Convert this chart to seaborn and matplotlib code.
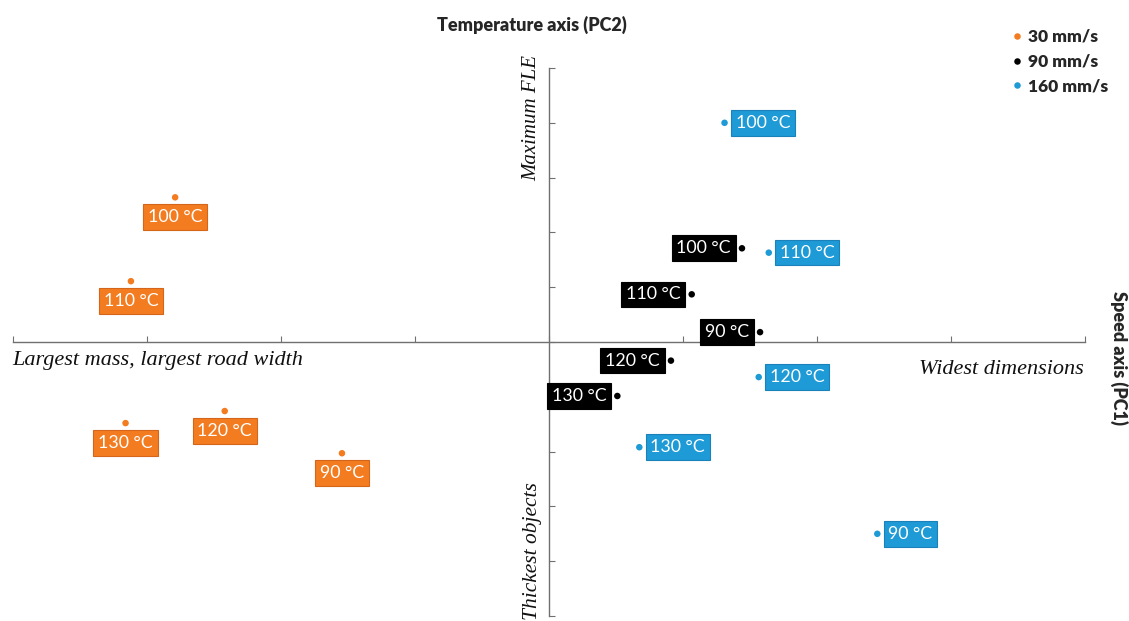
import matplotlib
matplotlib.use("Agg")
import matplotlib.pyplot as plt
import seaborn as sns
import pandas as pd

# ---- data ----
speeds = ["30 mm/s", "90 mm/s", "160 mm/s"]
colors = ["#F47C20", "#000000", "#1E9AD6"]
edge_colors = ["#D4651A", "#000000", "#1A82B8"]

temps_30 = ["100 °C", "110 °C", "130 °C", "120 °C", "90 °C"]
pc1_30 = [-2.79, -3.12, -3.16, -2.42, -1.545]
pc2_30 = [2.64, 1.11, -1.48, -1.26, -2.03]

temps_90 = ["100 °C", "110 °C", "90 °C", "120 °C", "130 °C"]
pc1_90 = [1.44, 1.065, 1.575, 0.91, 0.51]
pc2_90 = [1.71, 0.87, 0.18, -0.34, -0.985]

temps_160 = ["100 °C", "110 °C", "120 °C", "130 °C", "90 °C"]
pc1_160 = [1.31, 1.64, 1.565, 0.674, 2.45]
pc2_160 = [4.0, 1.63, -0.64, -1.92, -3.50]

x_ticks = [-4, -3, -2, -1, 0, 1, 2, 3, 4]
y_ticks = [-5, -4, -3, -2, -1, 0, 1, 2, 3, 4, 5]

df = pd.DataFrame({
    "speed": [speeds[0]] * 5 + [speeds[1]] * 5 + [speeds[2]] * 5,
    "temp": temps_30 + temps_90 + temps_160,
    "pc1": pc1_30 + pc1_90 + pc1_160,
    "pc2": pc2_30 + pc2_90 + pc2_160,
})

# ---- style ----
sns.set_style("white")
plt.rcParams["font.family"] = ["Lato", "DejaVu Sans"]

W, H = 1129, 621
fig = plt.figure(figsize=(W / 100, H / 100), dpi=100)
ax = fig.add_axes([0, 0, 1, 1])

# pixel geometry of the reference: origin (549, 342), 134 px per x unit, 54.8 px per y unit
ox, oy, ux, uy = 549, 342, 134.0, 54.8
ax.set_xlim(-ox / ux, (W - ox) / ux)
ax.set_ylim(-(H - oy) / uy, oy / uy)

palette = dict(zip(speeds, colors))
sns.scatterplot(data=df, x="pc1", y="pc2", hue="speed", hue_order=speeds,
                palette=palette, s=22, linewidth=0, ax=ax, legend=True, zorder=3)

# crossed axes
axis_col = "#707070"
for side in ["top", "right"]:
    ax.spines[side].set_visible(False)
ax.spines["left"].set_position(("data", 0))
ax.spines["bottom"].set_position(("data", 0))
ax.spines["left"].set_bounds(y_ticks[0], y_ticks[-1])
ax.spines["bottom"].set_bounds(x_ticks[0], x_ticks[-1])
for side in ["left", "bottom"]:
    ax.spines[side].set_color(axis_col)
    ax.spines[side].set_linewidth(1.0)
ax.set_xticks(x_ticks)
ax.set_yticks(y_ticks)
ax.set_xticklabels([])
ax.set_yticklabels([])
ax.tick_params(direction="in", length=4, width=0.8, color=axis_col,
               bottom=True, left=True)
ax.set_xlabel("")
ax.set_ylabel("")

# labels
placement = {speeds[0]: "below", speeds[1]: "left", speeds[2]: "right"}
fcs = dict(zip(speeds, colors))
ecs = dict(zip(speeds, edge_colors))
for _, r in df.iterrows():
    where = placement[r["speed"]]
    if where == "below":
        off, ha, va = (0, -8.4), "center", "top"
    elif where == "left":
        off, ha, va = (-8.0, 0), "right", "center"
    else:
        off, ha, va = (8.0, 0), "left", "center"
    ax.annotate(r["temp"], xy=(r["pc1"], r["pc2"]), xytext=off,
                textcoords="offset points", ha=ha, va=va, color="white",
                fontsize=12.8, zorder=4,
                bbox=dict(boxstyle="square,pad=0.27", fc=fcs[r["speed"]],
                          ec=ecs[r["speed"]], lw=0.8))

# axis captions
serif = dict(family="Liberation Serif", style="italic", color="#111111")
fig.text(12 / W, 1 - 361 / H, "Largest mass, largest road width", ha="left",
         va="center", fontsize=16, **serif)
fig.text(1084 / W, 1 - 370 / H, "Widest dimensions", ha="right", va="center",
         fontsize=16, **serif)
fig.text(532 / W, 1 - 118 / H, "Maximum FLE", ha="center", va="center",
         rotation=90, fontsize=15, **serif)
fig.text(532 / W, 1 - 551 / H, "Thickest objects", ha="center", va="center",
         rotation=90, fontsize=15.5, **serif)

fig.text(532 / W, 1 - 25 / H, "Temperature axis (PC2)", ha="center", va="center",
         fontsize=13, fontweight="heavy")
fig.text(1119 / W, 1 - 358 / H, "Speed axis (PC1)", ha="center", va="center",
         rotation=-90, fontsize=13, fontweight="heavy")

# legend
sns.move_legend(ax, "upper left", bbox_to_anchor=(1011.5 / W, 1 - 29 / H),
                bbox_transform=fig.transFigure, frameon=False, title=None,
                prop={"weight": "heavy", "size": 12.5}, handlelength=0.6,
                handletextpad=0.37, labelspacing=0.5, borderpad=0,
                borderaxespad=0)

fig.savefig("out.png", dpi=100)
